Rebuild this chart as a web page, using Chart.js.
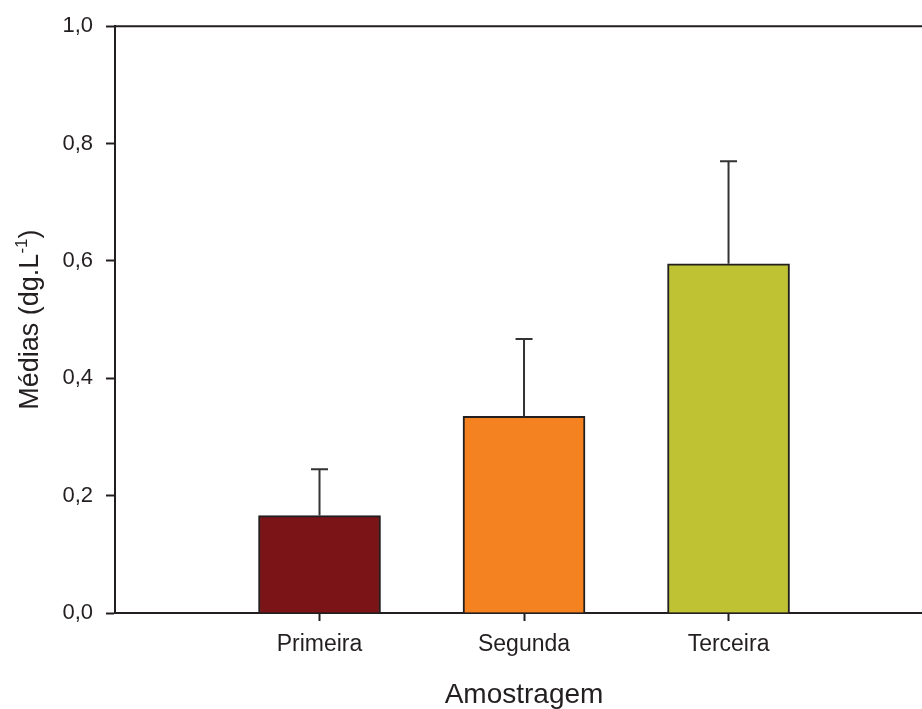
<!DOCTYPE html>
<html>
<head>
<meta charset="utf-8">
<script src="https://cdn.jsdelivr.net/npm/chart.js@4/dist/chart.umd.min.js"></script>
<style>
  html, body { margin: 0; padding: 0; background: #fff; overflow: hidden; }
  canvas { display: block; }
</style>
</head>
<body>
<canvas id="c" width="922" height="709"></canvas>
<script>
// Sampling rounds and their mean concentrations (dg/L) with upper error
const categories = ['Primeira', 'Segunda', 'Terceira'];
const means = [0.166, 0.335, 0.595];
const upperErrors = [0.079, 0.132, 0.175];
const yTicks = [0, 0.2, 0.4, 0.6, 0.8, 1.0];
const barColors = ['#7b1416', '#f58220', '#bfc232'];

const INK = '#231f20';
const FONT = '"Liberation Sans", Arial, sans-serif';

// Positions of the bars on a continuous x axis (1, 2, 3)
const xPositions = categories.map((_, i) => i + 1);

const frameAndTitles = {
  id: 'frameAndTitles',
  afterDraw(chart) {
    const { ctx, chartArea, scales } = chart;
    ctx.save();
    // top frame line
    ctx.strokeStyle = INK;
    ctx.lineWidth = 2;
    ctx.beginPath();
    ctx.moveTo(chartArea.left, chartArea.top);
    ctx.lineTo(chartArea.right, chartArea.top);
    ctx.stroke();

    // x axis title, centred on the middle category
    ctx.fillStyle = INK;
    ctx.font = '28px ' + FONT;
    ctx.textAlign = 'center';
    ctx.textBaseline = 'alphabetic';
    ctx.fillText('Amostragem', scales.x.getPixelForValue(2), 703);

    // y axis title with superscript
    const main1 = 'Médias (dg.L';
    const sup = '-1';
    const main2 = ')';
    ctx.font = '27px ' + FONT;
    const w1 = ctx.measureText(main1).width;
    const w3 = ctx.measureText(main2).width;
    ctx.font = '17px ' + FONT;
    const w2 = ctx.measureText(sup).width;
    const total = w1 + w2 + w3;
    const cy = (chartArea.top + chartArea.bottom) / 2;
    ctx.translate(38, cy);
    ctx.rotate(-Math.PI / 2);
    ctx.textAlign = 'left';
    let x = -total / 2;
    ctx.font = '27px ' + FONT;
    ctx.fillText(main1, x, 0);
    x += w1;
    ctx.font = '17px ' + FONT;
    ctx.fillText(sup, x, -11);
    x += w2;
    ctx.font = '27px ' + FONT;
    ctx.fillText(main2, x, 0);
    ctx.restore();
  }
};

const errorBars = {
  id: 'errorBars',
  afterDatasetsDraw(chart) {
    const { ctx, scales } = chart;
    const meta = chart.getDatasetMeta(0);
    ctx.save();
    ctx.strokeStyle = '#333333';
    ctx.lineWidth = 2;
    meta.data.forEach((bar, i) => {
      const top = scales.y.getPixelForValue(means[i] + upperErrors[i]);
      ctx.beginPath();
      ctx.moveTo(bar.x, bar.y);
      ctx.lineTo(bar.x, top);
      ctx.moveTo(bar.x - 8.5, top);
      ctx.lineTo(bar.x + 8.5, top);
      ctx.stroke();
    });
    ctx.restore();
  }
};

new Chart(document.getElementById('c'), {
  type: 'bar',
  data: {
    datasets: [{
      data: xPositions.map((x, i) => ({ x, y: means[i] })),
      backgroundColor: barColors,
      borderColor: INK,
      borderWidth: 2,
      barThickness: 122
    }]
  },
  options: {
    responsive: false,
    animation: false,
    devicePixelRatio: 1,
    layout: { padding: { top: 24, right: 0, bottom: 0, left: 0 } },
    plugins: {
      legend: { display: false },
      tooltip: { enabled: false }
    },
    scales: {
      x: {
        type: 'linear',
        offset: false,
        min: 0,
        max: 3.946,
        afterBuildTicks(scale) { scale.ticks = xPositions.map(v => ({ value: v })); },
        afterFit(scale) { scale.height = 96; },
        ticks: {
          autoSkip: false,
          maxRotation: 0,
          padding: 10,
          color: INK,
          font: { family: FONT, size: 23 },
          callback: v => categories[v - 1]
        },
        grid: {
          offset: false,
          drawOnChartArea: false,
          drawTicks: true,
          tickLength: 8,
          tickColor: INK,
          tickWidth: 2
        },
        border: { display: true, color: INK, width: 2 }
      },
      y: {
        min: 0,
        max: 1,
        afterBuildTicks(scale) { scale.ticks = yTicks.map(v => ({ value: v })); },
        afterFit(scale) { scale.width = 115; },
        ticks: {
          padding: 13,
          color: INK,
          font: { family: FONT, size: 22 },
          callback: v => v.toFixed(1).replace('.', ',')
        },
        grid: {
          drawOnChartArea: false,
          drawTicks: true,
          tickLength: 9,
          tickColor: INK,
          tickWidth: 2
        },
        border: { display: true, color: INK, width: 2 }
      }
    }
  },
  plugins: [errorBars, frameAndTitles]
});
</script>
</body>
</html>
